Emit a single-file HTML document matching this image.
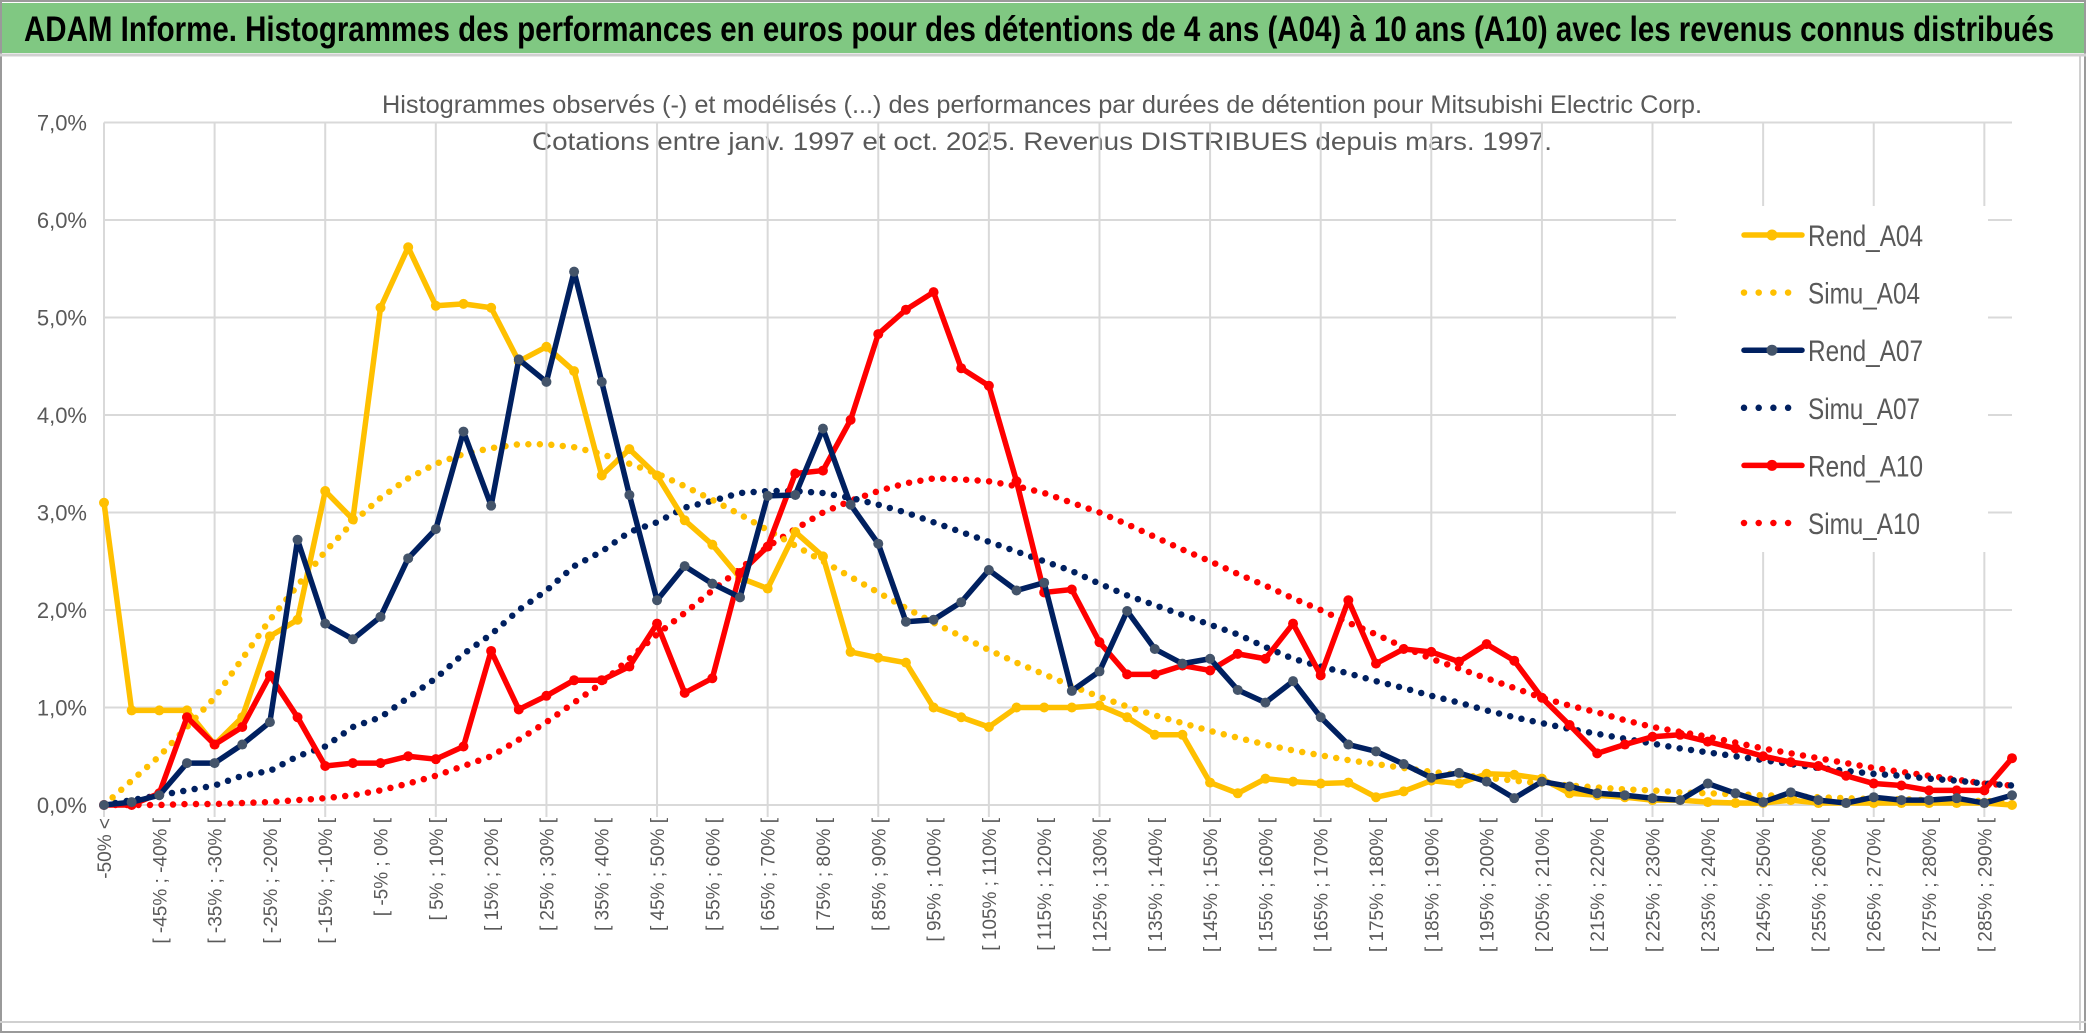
<!DOCTYPE html>
<html><head><meta charset="utf-8"><style>
html,body{margin:0;padding:0;background:#fff;}
svg{display:block;}
</style></head>
<body>
<svg id="chart" width="2086" height="1033" viewBox="0 0 2086 1033" xmlns="http://www.w3.org/2000/svg" font-family="'Liberation Sans', sans-serif">
  <rect x="0" y="0" width="2086" height="1033" fill="#fff"/>
  <rect x="1" y="1" width="2084" height="1031" fill="none" stroke="#9a9a9a" stroke-width="2"/>
  <rect x="2" y="3" width="2082" height="50" fill="#80c882"/>
  <line x1="0" y1="55" x2="2086" y2="55" stroke="#d0d0d0" stroke-width="3"/>
  <line x1="2080" y1="55" x2="2080" y2="1030" stroke="#d0d0d0" stroke-width="2"/>
  <line x1="0" y1="1022" x2="2086" y2="1022" stroke="#d0d0d0" stroke-width="2"/>
  <text x="24" y="41" font-size="35" font-weight="bold" fill="#000" textLength="2030" lengthAdjust="spacingAndGlyphs">ADAM Informe. Histogrammes des performances en euros pour des détentions de 4 ans (A04) à 10 ans (A10) avec les revenus connus distribués</text>
  <text x="1042" y="113" font-size="25" fill="#595959" text-anchor="middle" textLength="1320" lengthAdjust="spacingAndGlyphs">Histogrammes observés (-) et modélisés (...) des performances par durées de détention pour Mitsubishi Electric Corp.</text>
  <text x="1042" y="150" font-size="25" fill="#595959" text-anchor="middle" textLength="1020" lengthAdjust="spacingAndGlyphs">Cotations entre janv. 1997 et oct. 2025. Revenus DISTRIBUES depuis mars. 1997.</text>
  <g id="grid"></g>
  <g id="series"></g>
  <g id="xlabels"></g>
  <g id="ylabels"></g>
  <g id="legend"></g>
</svg>
<script>
const categories = (function(){const c=["-50% <"];for(let i=1;i<70;i++){const a=-50+5*(i-1);c.push("[ "+a+"% ; "+(a+5)+"% [");}return c;})();
const yTicks = [0,1,2,3,4,5,6,7];
const yTickLabels = ["0,0%","1,0%","2,0%","3,0%","4,0%","5,0%","6,0%","7,0%"];
const rendA04 = [3.1,0.97,0.97,0.97,0.62,0.9,1.73,1.9,3.22,2.93,5.1,5.72,5.12,5.14,5.1,4.55,4.7,4.45,3.38,3.65,3.38,2.92,2.67,2.33,2.22,2.8,2.55,1.57,1.51,1.46,1.0,0.9,0.8,1.0,1.0,1.0,1.02,0.9,0.72,0.72,0.23,0.12,0.27,0.24,0.22,0.23,0.08,0.14,0.25,0.22,0.32,0.31,0.27,0.12,0.1,0.08,0.05,0.05,0.03,0.02,0.02,0.05,0.02,0.02,0.02,0.02,0.02,0.02,0.02,0.0];
const simuA04 = [0.0,0.25,0.5,0.8,1.1,1.5,1.9,2.25,2.6,2.9,3.15,3.35,3.5,3.6,3.66,3.7,3.7,3.67,3.6,3.5,3.4,3.27,3.13,2.98,2.82,2.66,2.5,2.34,2.18,2.02,1.87,1.73,1.59,1.46,1.34,1.22,1.11,1.01,0.92,0.84,0.76,0.69,0.62,0.56,0.51,0.46,0.42,0.38,0.34,0.31,0.28,0.25,0.22,0.2,0.18,0.16,0.15,0.13,0.12,0.11,0.1,0.09,0.08,0.07,0.06,0.06,0.05,0.05,0.04,0.04];
const rendA07 = [0,0.03,0.1,0.43,0.43,0.62,0.85,2.72,1.86,1.7,1.93,2.53,2.83,3.83,3.07,4.57,4.34,5.47,4.34,3.18,2.1,2.45,2.27,2.13,3.17,3.18,3.86,3.08,2.68,1.88,1.9,2.08,2.41,2.2,2.28,1.17,1.37,1.99,1.6,1.45,1.5,1.18,1.05,1.27,0.9,0.62,0.55,0.42,0.28,0.33,0.24,0.07,0.24,0.19,0.12,0.1,0.07,0.05,0.22,0.12,0.03,0.13,0.05,0.02,0.08,0.05,0.05,0.07,0.02,0.1];
const simuA07 = [0,0.05,0.1,0.15,0.2,0.3,0.35,0.5,0.6,0.8,0.9,1.1,1.3,1.55,1.75,2.0,2.2,2.45,2.6,2.8,2.9,3.05,3.12,3.2,3.22,3.22,3.2,3.15,3.08,3.0,2.9,2.8,2.7,2.6,2.5,2.4,2.27,2.15,2.05,1.95,1.85,1.75,1.62,1.5,1.42,1.35,1.27,1.2,1.12,1.05,0.97,0.9,0.84,0.78,0.73,0.68,0.63,0.58,0.54,0.5,0.46,0.42,0.38,0.35,0.32,0.3,0.27,0.25,0.22,0.2];
const rendA10 = [0,0,0.12,0.9,0.62,0.8,1.33,0.9,0.4,0.43,0.43,0.5,0.47,0.6,1.58,0.98,1.12,1.28,1.28,1.42,1.86,1.15,1.3,2.38,2.65,3.4,3.43,3.95,4.83,5.08,5.26,4.48,4.3,3.32,2.18,2.21,1.67,1.34,1.34,1.43,1.38,1.55,1.5,1.86,1.33,2.1,1.45,1.6,1.57,1.47,1.65,1.48,1.1,0.82,0.53,0.62,0.7,0.72,0.65,0.58,0.5,0.44,0.4,0.3,0.22,0.2,0.15,0.15,0.15,0.48];
const simuA10 = [0,0,0,0.01,0.01,0.02,0.03,0.05,0.07,0.1,0.15,0.22,0.3,0.4,0.5,0.67,0.85,1.05,1.25,1.5,1.75,1.97,2.2,2.42,2.65,2.83,3.0,3.12,3.22,3.3,3.35,3.34,3.32,3.27,3.2,3.1,3.0,2.88,2.75,2.62,2.5,2.37,2.25,2.12,2.0,1.87,1.75,1.62,1.5,1.4,1.3,1.2,1.1,1.02,0.95,0.87,0.8,0.75,0.7,0.64,0.58,0.53,0.48,0.43,0.38,0.34,0.3,0.26,0.22,0.2];

const NS="http://www.w3.org/2000/svg";
const X0=104, X1=2012, Y0=805, YPER=97.5;
const step=(X1-X0)/(categories.length-1);
function xScale(i){return X0+i*step;}
function yScale(v){return Y0-v*YPER;}
function mk(tag,attrs,parent){const e=document.createElementNS(NS,tag);for(const k in attrs)e.setAttribute(k,attrs[k]);parent.appendChild(e);return e;}

const grid=document.getElementById('grid');
yTicks.forEach((t,k)=>{
  const l=mk('line',{x1:X0,x2:X1,y1:yScale(t),y2:yScale(t),stroke:'#d9d9d9','stroke-width':2},grid);
  
  
  const tx=mk('text',{x:87,y:yScale(t)+8,'font-size':22,fill:'#595959','text-anchor':'end'},document.getElementById('ylabels'));
  tx.textContent=yTickLabels[k];
  
  
});
for(let i=0;i<categories.length;i+=4){
  const l=mk('line',{x1:xScale(i),x2:xScale(i),y1:yScale(7),y2:Y0+12,stroke:'#d9d9d9','stroke-width':2},grid);
  
  
}
const xl=document.getElementById('xlabels');
for(let i=0;i<categories.length;i+=2){
  const x=xScale(i)+7, y=818;
  const t=mk('text',{x:x,y:y,'font-size':19,fill:'#595959','text-anchor':'end',transform:'rotate(-90 '+x+' '+y+')'},xl);
  t.textContent=categories[i];
  
  
}

const S=document.getElementById('series');
function dotted(data,color,name){
  const pts=data.map((v,i)=>xScale(i)+','+yScale(v)).join(' ');
  const p=mk('polyline',{points:pts,fill:'none',stroke:color,'stroke-width':6.5,'stroke-linecap':'round','stroke-dasharray':'0 11.5'},S);
  
  
}
function solid(data,color,mcolor,name){
  const g=mk('g',{},S);
  
  
  const pts=data.map((v,i)=>xScale(i)+','+yScale(v)).join(' ');
  const p=mk('polyline',{points:pts,fill:'none',stroke:color,'stroke-width':5.5,'stroke-linejoin':'round'},g);
  
  
  data.forEach((v,i)=>{
    const c=mk('circle',{cx:xScale(i),cy:yScale(v),r:5,fill:mcolor},g);
    
    
  });
}
dotted(simuA10,'#ff0000','simu-a10');
dotted(simuA07,'#002060','simu-a07');
dotted(simuA04,'#ffc000','simu-a04');
solid(rendA04,'#ffc000','#ffc000','rend-a04');
solid(rendA10,'#ff0000','#ff0000','rend-a10');
solid(rendA07,'#002060','#44546a','rend-a07');

const legendItems=[["Rend_A04",'#ffc000','#ffc000',false],["Simu_A04",'#ffc000',null,true],["Rend_A07",'#002060','#44546a',false],["Simu_A07",'#002060',null,true],["Rend_A10",'#ff0000','#ff0000',false],["Simu_A10",'#ff0000',null,true]];
const LG=document.getElementById('legend');
const lbg=mk('rect',{x:1676,y:206,width:312,height:346,fill:'#fff'},LG);


legendItems.forEach((it,k)=>{
  const y=235+k*57.6;
  const g=mk('g',{},LG);
  
  
  if(it[3]){
    mk('line',{x1:1744,x2:1800,y1:y,y2:y,stroke:it[1],'stroke-width':6.5,'stroke-linecap':'round','stroke-dasharray':'0 14.7'},g);
  } else {
    mk('line',{x1:1744,x2:1802,y1:y,y2:y,stroke:it[1],'stroke-width':5.5,'stroke-linecap':'round'},g);
    mk('circle',{cx:1772,cy:y,r:5.5,fill:it[2]},g);
  }
  const t=mk('text',{x:1808,y:y+11,'font-size':30,fill:'#595959',textLength:(it[0].indexOf('Rend')===0?115:112),lengthAdjust:'spacingAndGlyphs'},g);
  t.textContent=it[0];
});
</script>
</body></html>
